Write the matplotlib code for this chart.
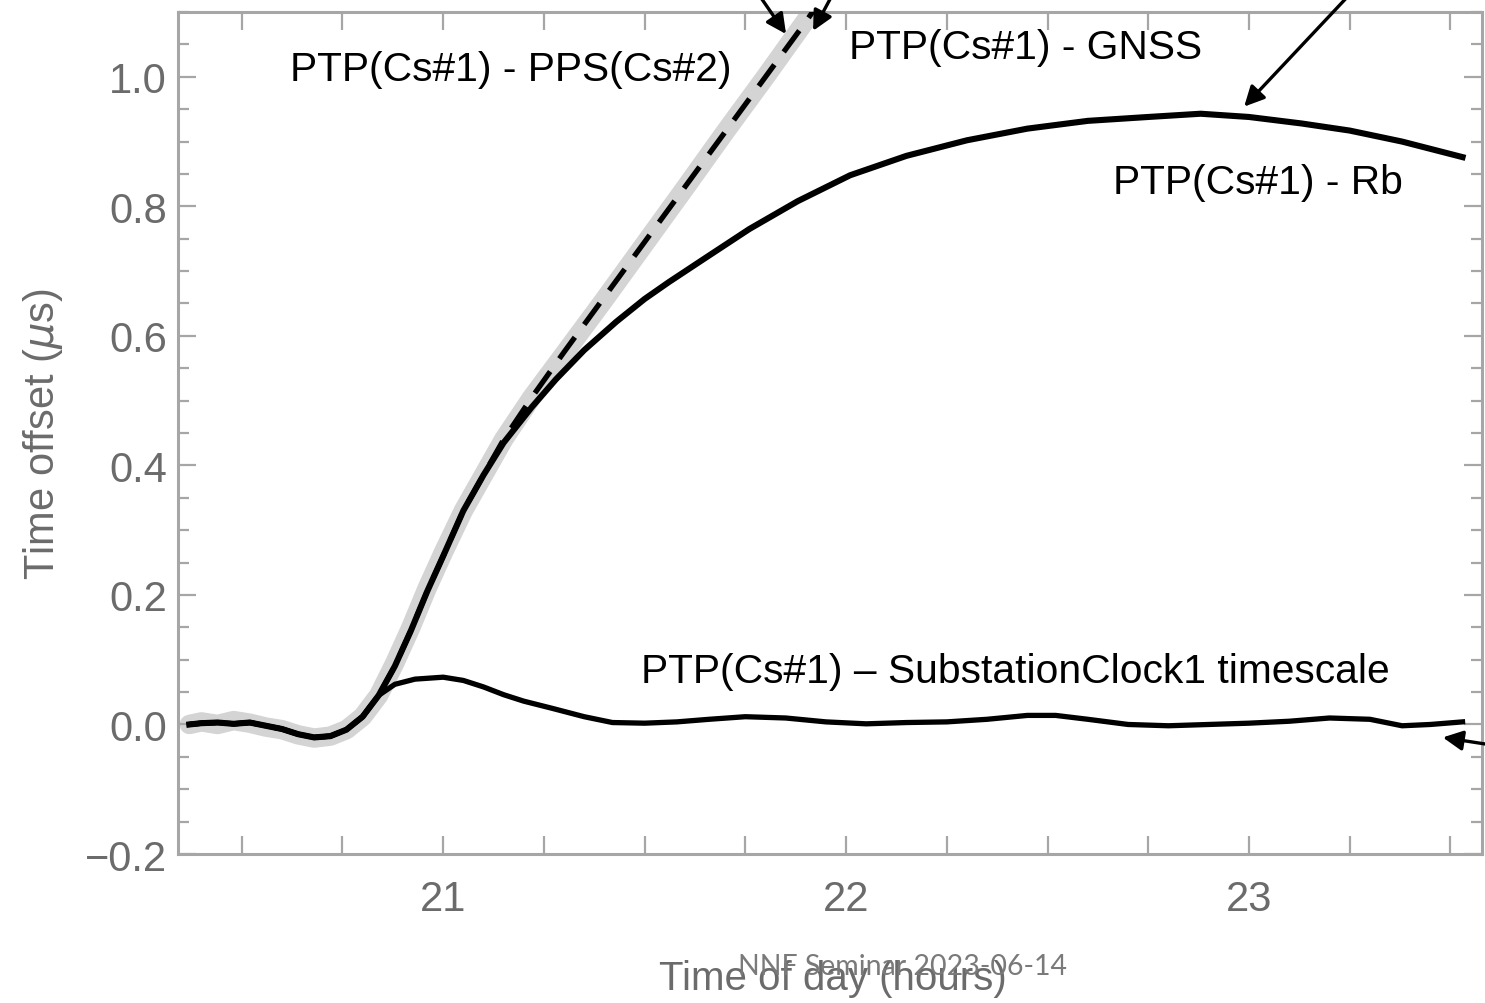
import matplotlib
matplotlib.use('Agg')
import matplotlib.pyplot as plt
from matplotlib.ticker import MultipleLocator

plt.rcParams['font.family'] = ['Liberation Sans', 'DejaVu Sans']

# time of day (hours) / time offset (us)
pps_t = [20.37, 20.40, 20.44, 20.48, 20.52, 20.56, 20.60, 20.64, 20.68, 20.72, 20.76, 20.80,
         20.84, 20.88, 20.92, 20.96, 21.00, 21.05, 21.10, 21.15, 21.22, 21.30, 21.40, 21.50,
         21.60, 21.70, 21.80, 21.90, 21.96]
pps_y = [0.0, 0.004, 0.0, 0.006, 0.002, -0.004, -0.008, -0.016, -0.021, -0.018, -0.008, 0.012,
         0.045, 0.095, 0.15, 0.21, 0.265, 0.33, 0.385, 0.44, 0.505, 0.572, 0.656, 0.742,
         0.828, 0.915, 1.0, 1.087, 1.14]

gnss_t = [20.37, 20.40, 20.44, 20.48, 20.52, 20.56, 20.60, 20.64, 20.68, 20.72, 20.76, 20.80,
          20.84, 20.88, 20.92, 20.96, 21.00, 21.05, 21.10, 21.15, 21.22, 21.30, 21.40, 21.50,
          21.60, 21.70, 21.80, 21.90, 21.95]
gnss_y = [0.0, 0.002, 0.003, 0.001, 0.003, -0.002, -0.007, -0.015, -0.02, -0.018, -0.008, 0.012,
          0.045, 0.09, 0.145, 0.205, 0.26, 0.33, 0.385, 0.44, 0.505, 0.575, 0.66, 0.745,
          0.83, 0.915, 1.0, 1.085, 1.13]

rb_t = [20.37, 20.40, 20.44, 20.48, 20.52, 20.56, 20.60, 20.64, 20.68, 20.72, 20.76, 20.80,
        20.84, 20.88, 20.92, 20.96, 21.00, 21.05, 21.10, 21.15, 21.22, 21.28, 21.35, 21.43,
        21.50, 21.56, 21.65, 21.76, 21.88, 22.01, 22.15, 22.30, 22.45, 22.60, 22.75, 22.88,
        23.00, 23.13, 23.25, 23.38, 23.53]
rb_y = [0.0, 0.002, 0.003, 0.001, 0.003, -0.002, -0.007, -0.015, -0.02, -0.018, -0.008, 0.012,
        0.045, 0.09, 0.145, 0.205, 0.26, 0.33, 0.385, 0.435, 0.49, 0.533, 0.578, 0.622,
        0.657, 0.683, 0.72, 0.765, 0.808, 0.848, 0.878, 0.902, 0.92, 0.932, 0.938, 0.943,
        0.938, 0.928, 0.917, 0.9, 0.876]

sub_t = [20.37, 20.40, 20.44, 20.48, 20.52, 20.56, 20.60, 20.64, 20.68, 20.72, 20.76, 20.80,
         20.84, 20.88, 20.93, 21.00, 21.05, 21.10, 21.15, 21.20, 21.27, 21.35, 21.42, 21.50,
         21.58, 21.66, 21.75, 21.85, 21.95, 22.05, 22.15, 22.25, 22.35, 22.45, 22.52, 22.60,
         22.70, 22.80, 22.90, 23.00, 23.10, 23.20, 23.30, 23.38, 23.45, 23.53]
sub_y = [0.0, 0.002, 0.003, 0.001, 0.003, -0.002, -0.007, -0.015, -0.02, -0.018, -0.008, 0.012,
         0.045, 0.062, 0.07, 0.073, 0.068, 0.058, 0.046, 0.036, 0.025, 0.012, 0.003, 0.002,
         0.004, 0.008, 0.012, 0.01, 0.004, 0.001, 0.003, 0.004, 0.008, 0.014, 0.014, 0.008,
         0.0, -0.002, 0.0, 0.002, 0.005, 0.01, 0.008, -0.002, 0.0, 0.004]

xticks = [21, 22, 23]
yticks = [-0.2, 0.0, 0.2, 0.4, 0.6, 0.8, 1.0]

grey = '#a6a6a6'
label_grey = '#6b6b6b'

fig = plt.figure(figsize=(14.85, 10.04), dpi=100)
ax = fig.add_axes([0.1199, 0.1484, 0.878, 0.8386])

ax.plot(pps_t, pps_y, color='#d4d4d4', lw=14, solid_capstyle='round', zorder=1)
ax.plot(gnss_t, gnss_y, color='black', lw=3.8, dashes=(5, 3), zorder=3)
ax.plot(rb_t, rb_y, color='black', lw=4.4, zorder=2)
ax.plot(sub_t, sub_y, color='black', lw=3.8, zorder=2)

ax.set_xlim(20.342, 23.578)
ax.set_ylim(-0.2, 1.1)
ax.set_xticks(xticks)
ax.set_xticklabels([str(t) for t in xticks])
ax.set_yticks(yticks)
ax.set_yticklabels(['\u22120.2', '0.0', '0.2', '0.4', '0.6', '0.8', '1.0'])
ax.xaxis.set_minor_locator(MultipleLocator(0.25))
ax.yaxis.set_minor_locator(MultipleLocator(0.05))
ax.tick_params(which='both', direction='in', top=True, right=True, color=grey, width=1.6,
               labelsize=30, labelcolor=label_grey)
ax.tick_params(axis='x', which='both', length=13, pad=18)
ax.tick_params(axis='y', which='major', length=13, pad=8)
ax.tick_params(axis='y', which='minor', length=8)
for s in ax.spines.values():
    s.set_color(grey)
    s.set_linewidth(2.2)

ax.set_ylabel('Time offset ($\\mu$s)', fontsize=30, color=label_grey, labelpad=14)

ax.text(20.62, 1.012, 'PTP(Cs#1) - PPS(Cs#2)', fontsize=29.3, va='center', ha='left')
ax.text(22.006, 1.046, 'PTP(Cs#1) - GNSS', fontsize=29.3, va='center', ha='left')
ax.text(22.662, 0.838, 'PTP(Cs#1) - Rb', fontsize=29.3, va='center', ha='left')
ax.text(21.49, 0.082, 'PTP(Cs#1) \u2013 SubstationClock1 timescale', fontsize=29.3,
        va='center', ha='left')

arrow = dict(arrowstyle='-|>', color='black', lw=2.4, mutation_scale=30, shrinkA=0, shrinkB=0)
ax.annotate('', xy=(21.851, 1.066), xycoords='data', xytext=(0.513, 1.0),
            textcoords='figure fraction', arrowprops=arrow, annotation_clip=False)
ax.annotate('', xy=(21.918, 1.071), xycoords='data', xytext=(0.559, 1.0),
            textcoords='figure fraction', arrowprops=arrow, annotation_clip=False)
ax.annotate('', xy=(22.988, 0.954), xycoords='data', xytext=(0.906, 1.0),
            textcoords='figure fraction', arrowprops=arrow, annotation_clip=False)
ax.annotate('', xy=(23.481, -0.020), xycoords='data', xytext=(1.0, 0.258),
            textcoords='figure fraction', arrowprops=arrow, annotation_clip=False)

fig.text(0.561, 0.025, 'Time of day (hours)', fontsize=29, color=label_grey,
         ha='center', va='center')
fig.text(0.6075, 0.037, 'NNF Seminar 2023-06-14', fontsize=20.5, color='#7a7a7a',
         ha='center', va='center', family='Lato')

fig.savefig('out.png', dpi=100)
